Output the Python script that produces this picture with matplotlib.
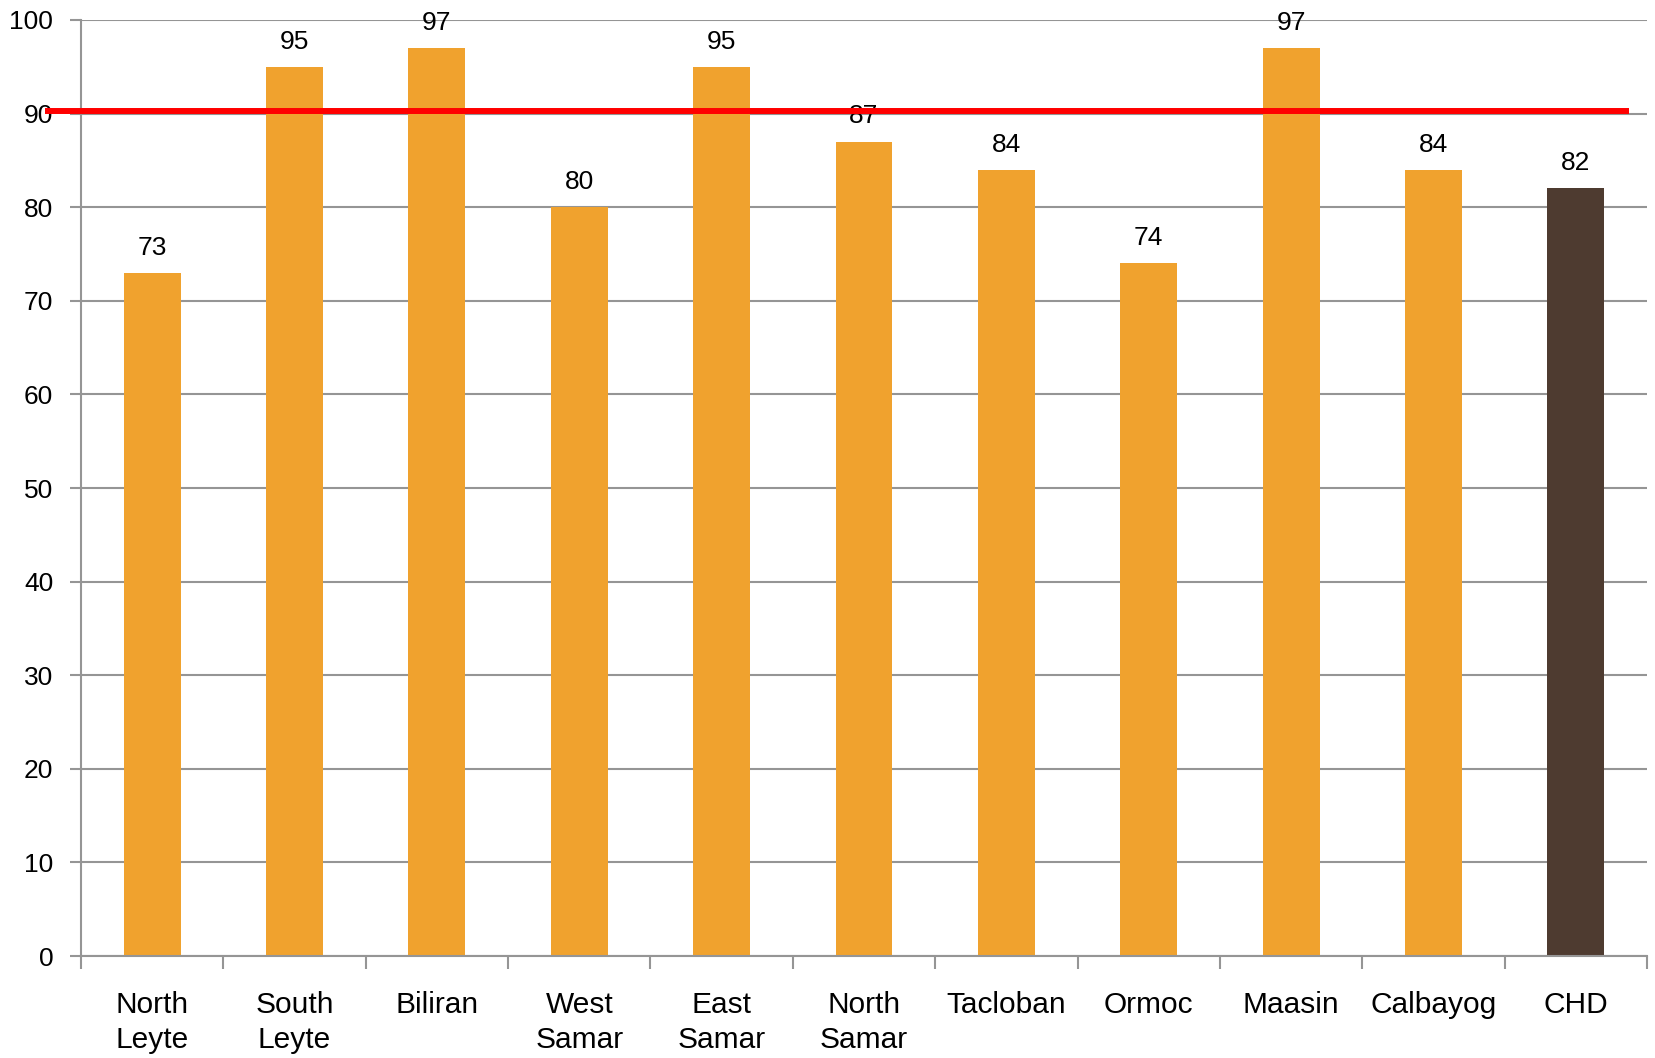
import matplotlib
matplotlib.use("Agg")
import matplotlib.pyplot as plt
import numpy as np

categories = ["North\nLeyte", "South\nLeyte", "Biliran", "West\nSamar", "East\nSamar",
              "North\nSamar", "Tacloban", "Ormoc", "Maasin", "Calbayog", "CHD"]
values = [73, 95, 97, 80, 95, 87, 84, 74, 97, 84, 82]
bar_colors = ["#F0A22E"] * 10 + ["#4E3B30"]
target = 90.3
yticks = list(range(0, 101, 10))

plt.rcParams['font.family'] = ['Liberation Sans', 'DejaVu Sans']
fig = plt.figure(figsize=(16.56, 10.58), dpi=100)
ax = fig.add_axes([0.0489, 0.0964, 0.9457, 0.8847])

x = np.arange(len(categories))
ax.bar(x, values, width=0.4, color=bar_colors, zorder=2)
for xi, v in zip(x, values):
    ax.annotate(str(v), (xi, v), xytext=(0, 9.5), textcoords="offset points",
                ha="center", va="bottom", fontsize=19, color="#000000", zorder=4)

ax.set_xlim(-0.5, len(categories) - 0.5)
ax.set_ylim(0, 100)
ax.set_yticks(yticks)
ax.yaxis.grid(True, color="#959595", linewidth=1.5, zorder=0)
ax.set_axisbelow(True)

ax.plot([-0.75, len(categories) - 0.63], [target, target], color="#FF0000",
        linewidth=4.3, clip_on=False, zorder=5, solid_capstyle="butt")

for s in ["top", "right"]:
    ax.spines[s].set_visible(False)
for s in ["left", "bottom"]:
    ax.spines[s].set_color("#959595")
    ax.spines[s].set_linewidth(1.5)

ax.set_xticks(x)
ax.set_xticklabels(categories, fontsize=21.5, linespacing=1.32)
ax.tick_params(axis="x", which="major", length=0, pad=25)
ax.set_xticks(np.arange(-0.5, len(categories), 1.0), minor=True)
ax.tick_params(axis="x", which="minor", length=9, width=1.5, color="#959595")
ax.tick_params(axis="y", length=8, width=1.5, color="#959595", labelsize=19, pad=12)

fig.savefig("out.png", dpi=100, facecolor="white")
